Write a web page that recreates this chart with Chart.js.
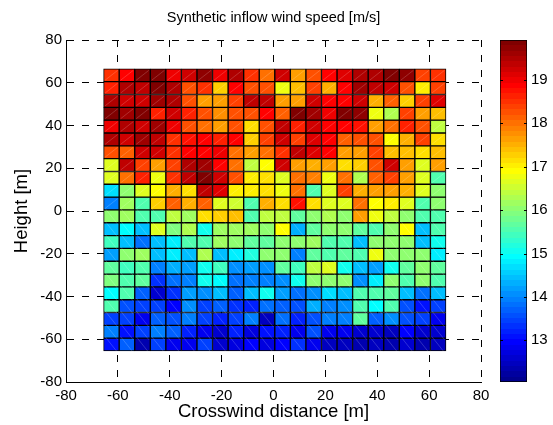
<!DOCTYPE html>
<html>
<head>
<meta charset="utf-8">
<script src="https://cdn.jsdelivr.net/npm/chart.js@4"></script>
<style>
  html, body { margin: 0; padding: 0; background: #fff; }
  #wrap { position: relative; width: 553px; height: 425px; }
  #wrap canvas { position: absolute; left: 0; top: 0; }
</style>
</head>
<body>
<div id="wrap">
  <canvas id="main" width="553" height="425"></canvas>
  <canvas id="cbar" width="553" height="425"></canvas>
</div>
<script>
/* ---- data: wind speed [m/s] per cell, rows top (y=63) to bottom (y=-63) ---- */
const crosswind = [-62.5, -56.5, -50.5, -44.5, -38.5, -32.5, -26.5, -20.5, -14.5, -8.5, -2.5,
                   3.5, 9.5, 15.5, 21.5, 27.5, 33.5, 39.5, 45.5, 51.5, 57.5, 63.5];
const heights = [63.5, 57.5, 51.5, 45.5, 39.5, 33.5, 27.5, 21.5, 15.5, 9.5, 3.5,
                 -2.5, -8.5, -14.5, -20.5, -26.5, -32.5, -38.5, -44.5, -50.5, -56.5, -62.5];
const cellHalf = 3;

const windSpeed = [
  [18.5, 18.9, 19.8, 19.8, 19.0, 19.2, 19.7, 19.0, 19.5, 18.5, 18.0, 19.3, 17.7, 18.2, 18.9, 19.1, 19.5, 19.5, 19.8, 19.7, 18.4, 18.5],
  [18.6, 19.5, 19.4, 19.8, 19.5, 18.3, 18.5, 17.3, 18.9, 18.2, 18.3, 16.8, 17.4, 18.4, 17.5, 18.9, 19.6, 19.4, 19.2, 18.2, 17.0, 18.4],
  [19.5, 19.3, 19.3, 19.6, 19.5, 18.3, 17.6, 17.6, 18.4, 19.4, 19.4, 17.6, 17.7, 19.3, 18.9, 18.9, 19.3, 17.5, 18.1, 17.3, 18.4, 19.1],
  [19.9, 19.6, 19.8, 18.6, 19.2, 18.6, 18.3, 17.8, 18.3, 18.2, 18.9, 18.1, 19.9, 19.6, 19.0, 19.9, 19.7, 16.8, 16.3, 18.4, 17.6, 17.4],
  [19.0, 19.5, 19.3, 19.6, 19.0, 18.2, 18.0, 17.7, 18.2, 17.2, 18.3, 19.4, 18.6, 19.3, 18.9, 18.9, 18.8, 17.6, 18.0, 18.6, 18.3, 16.4],
  [19.5, 19.2, 19.6, 19.4, 18.5, 18.8, 18.9, 18.6, 18.9, 17.3, 18.4, 19.3, 18.4, 19.1, 18.9, 18.1, 18.2, 18.2, 16.9, 17.5, 18.4, 17.2],
  [18.2, 18.1, 19.3, 19.3, 18.5, 18.9, 18.9, 19.0, 18.0, 17.7, 18.0, 18.5, 19.4, 19.1, 18.9, 17.6, 17.7, 18.4, 17.4, 17.4, 17.1, 17.4],
  [16.6, 19.4, 18.4, 17.6, 18.4, 19.5, 19.6, 18.9, 18.0, 16.4, 16.9, 19.3, 17.7, 17.5, 17.6, 17.2, 17.3, 18.2, 19.2, 17.6, 16.7, 17.7],
  [16.6, 18.0, 18.6, 16.8, 18.5, 19.4, 19.8, 19.2, 18.3, 17.0, 17.1, 16.7, 18.0, 17.9, 16.8, 18.0, 16.3, 18.1, 18.4, 17.6, 16.7, 15.5],
  [14.7, 16.1, 16.6, 16.9, 17.5, 17.1, 19.4, 19.1, 17.0, 17.0, 17.2, 16.8, 18.0, 15.6, 16.6, 18.4, 17.5, 17.6, 17.7, 17.5, 16.7, 16.1],
  [13.9, 16.2, 15.6, 17.3, 18.1, 17.5, 18.1, 16.7, 16.5, 15.6, 17.5, 17.1, 18.8, 17.1, 16.6, 16.7, 18.0, 16.9, 17.0, 16.6, 15.5, 16.0],
  [16.1, 16.2, 15.5, 15.5, 16.4, 16.2, 17.2, 17.3, 17.4, 15.6, 16.4, 16.4, 15.7, 16.1, 16.3, 16.1, 17.6, 16.8, 16.4, 16.1, 15.6, 15.6],
  [14.4, 14.9, 14.5, 16.6, 15.9, 16.3, 15.0, 16.2, 16.2, 16.2, 16.1, 16.9, 14.3, 15.7, 16.0, 16.1, 15.7, 15.5, 16.0, 16.9, 14.5, 15.5],
  [15.4, 14.5, 13.8, 14.4, 14.8, 15.6, 15.5, 16.2, 16.1, 15.7, 15.7, 16.0, 16.0, 16.2, 15.5, 15.6, 14.5, 16.1, 16.1, 16.1, 14.4, 15.0],
  [14.2, 16.1, 16.2, 14.4, 14.8, 14.5, 16.3, 14.5, 14.8, 15.2, 16.1, 16.0, 13.9, 15.7, 15.6, 15.7, 15.6, 16.8, 16.0, 16.1, 16.1, 14.8],
  [15.7, 15.4, 15.6, 14.0, 14.3, 14.2, 15.0, 15.4, 14.1, 14.2, 14.1, 15.7, 15.4, 16.4, 16.6, 15.0, 14.4, 14.2, 15.0, 15.7, 16.1, 15.7],
  [15.9, 15.6, 15.7, 13.3, 13.8, 14.0, 15.0, 14.9, 13.8, 14.0, 14.0, 14.1, 15.0, 16.0, 16.0, 16.0, 14.1, 14.8, 16.0, 15.5, 16.1, 15.5],
  [14.9, 15.6, 13.7, 12.6, 13.3, 14.2, 14.1, 14.4, 13.7, 14.4, 15.0, 14.2, 13.8, 14.1, 14.7, 14.4, 15.6, 15.5, 15.7, 14.4, 13.8, 14.5],
  [15.5, 13.6, 13.4, 13.4, 13.0, 14.1, 13.4, 13.7, 13.3, 13.2, 13.8, 13.7, 13.6, 14.3, 14.0, 14.1, 15.6, 14.9, 15.6, 13.6, 13.1, 13.5],
  [13.5, 13.5, 12.9, 13.7, 13.6, 13.9, 13.5, 13.2, 13.4, 13.9, 12.5, 13.8, 13.2, 13.6, 13.9, 14.0, 15.7, 13.7, 14.1, 13.6, 13.4, 12.8],
  [13.9, 13.1, 13.5, 13.9, 13.7, 13.2, 12.8, 12.6, 13.2, 12.7, 13.1, 13.2, 12.9, 13.6, 12.8, 12.9, 12.6, 12.6, 12.5, 13.0, 12.6, 12.6],
  [13.1, 13.7, 12.4, 13.4, 12.8, 12.9, 13.4, 12.6, 12.7, 13.0, 12.7, 13.0, 13.3, 12.8, 12.5, 12.5, 12.4, 12.5, 12.4, 12.6, 12.4, 12.5]
];

const axisTicks = [-80, -60, -40, -20, 0, 20, 40, 60, 80];
const colorTicks = [13, 14, 15, 16, 17, 18, 19];
const colorLimits = [12.04, 19.92];

/* ---- jet colormap (64 levels, like MATLAB) ---- */
const NCOL = 64;
function jetRGB(i) {
  const k = i + 1;
  const u = j => (j < 1 || j > 47) ? 0 : (j <= 16 ? j / 16 : (j <= 31 ? 1 : (48 - j) / 16));
  return 'rgb(' + [u(k - 24), u(k - 8), u(k + 8)].map(c => Math.round(c * 255)).join(',') + ')';
}
function colorFor(v) {
  const t = (v - colorLimits[0]) / (colorLimits[1] - colorLimits[0]);
  const i = Math.max(0, Math.min(NCOL - 1, Math.floor(t * NCOL)));
  return jetRGB(i);
}

const FONT = 'Arial, "Liberation Sans", Helvetica, sans-serif';

// faint diagonal in every cell (triangulated surface look)
const diagonais = {
  id: 'diagonais',
  afterDatasetsDraw(chart) {
    const ctx = chart.ctx;
    ctx.save();
    ctx.strokeStyle = 'rgba(255,255,255,0.3)';
    ctx.lineWidth = 0.6;
    chart.getSortedVisibleDatasetMetas().forEach(meta => {
      meta.data.forEach(bar => {
        const p = bar.getProps(['x', 'y', 'base', 'width'], true);
        ctx.beginPath();
        ctx.moveTo(p.x - p.width / 2 + 1.5, p.base - 1.5);
        ctx.lineTo(p.x + p.width / 2 - 1.5, p.y + 1.5);
        ctx.stroke();
      });
    });
    ctx.restore();
  }
};

// one floating-bar dataset per row of cells
const datasets = heights.map((h, r) => ({
  data: crosswind.map(x => ({ x: x, y: [h - cellHalf, h + cellHalf] })),
  backgroundColor: windSpeed[r].map(colorFor),
  borderColor: '#000',
  borderWidth: 1,
  borderSkipped: false,
  barPercentage: 1,
  categoryPercentage: 1,
  grouped: false
}));

const axisCommon = (titleText) => ({
  type: 'linear',
  min: -80,
  max: 80,
  offset: false,
  afterBuildTicks: scale => { scale.ticks = axisTicks.map(v => ({ value: v })); },
  grid: { color: '#000', lineWidth: 1, drawTicks: false, offset: false },
  border: { display: true, color: '#000', width: 1, dash: [7, 8] },
  ticks: { color: '#000', font: { family: FONT, size: 15 }, padding: 5 },
  title: { display: true, text: titleText, color: '#000', font: { family: FONT, size: 18.5 } }
});

const xAxis = axisCommon('Crosswind distance [m]');
xAxis.title.padding = { top: 0, bottom: 2 };
xAxis.afterFit = scale => { scale.height = 43; };

const yAxis = axisCommon('Height [m]');
yAxis.title.padding = { top: 11, bottom: 0 };
yAxis.ticks.padding = 4;
yAxis.afterFit = scale => { scale.width = 66; };

new Chart(document.getElementById('main'), {
  type: 'bar',
  data: { datasets: datasets },
  options: {
    responsive: false,
    animation: false,
    devicePixelRatio: 1,
    layout: { padding: { left: 0, right: 72, top: 0, bottom: 0 } },
    plugins: {
      legend: { display: false },
      tooltip: { enabled: false },
      title: {
        display: true,
        fullSize: false,
        text: 'Synthetic inflow wind speed [m/s]',
        color: '#000',
        font: { family: FONT, size: 14.5, weight: 'normal' },
        padding: { top: 9, bottom: 13.6 }
      }
    },
    scales: { x: xAxis, y: yAxis }
  },
  plugins: [diagonais]
});

/* ---- colorbar ---- */
const marcasColorbar = {
  id: 'marcasColorbar',
  afterDraw(chart) {
    const ctx = chart.ctx;
    const a = chart.chartArea;
    const y = chart.scales.y;
    ctx.save();
    ctx.strokeStyle = '#000';
    ctx.lineWidth = 1;
    colorTicks.forEach(v => {
      const py = Math.round(y.getPixelForValue(v)) + 0.5;
      ctx.beginPath();
      ctx.moveTo(a.left, py); ctx.lineTo(a.left + 3, py);
      ctx.moveTo(a.right - 3, py); ctx.lineTo(a.right, py);
      ctx.stroke();
    });
    ctx.restore();
  }
};

new Chart(document.getElementById('cbar'), {
  type: 'bar',
  data: {
    labels: [''],
    datasets: [{
      data: [colorLimits],
      backgroundColor: (c) => {
        const chart = c.chart;
        if (!chart.chartArea) return '#000';
        const y = chart.scales.y;
        const g = chart.ctx.createLinearGradient(0, y.getPixelForValue(colorLimits[0]), 0, y.getPixelForValue(colorLimits[1]));
        for (let i = 0; i < NCOL; i++) {
          g.addColorStop(i / NCOL, jetRGB(i));
          g.addColorStop((i + 1) / NCOL, jetRGB(i));
        }
        return g;
      },
      borderColor: '#000',
      borderWidth: 1,
      borderSkipped: false,
      barPercentage: 1,
      categoryPercentage: 1
    }]
  },
  options: {
    responsive: false,
    animation: false,
    devicePixelRatio: 1,
    layout: { padding: { left: 500, right: 0, top: 40, bottom: 43 } },
    plugins: { legend: { display: false }, tooltip: { enabled: false } },
    scales: {
      x: { display: false },
      y: {
        position: 'right',
        min: colorLimits[0],
        max: colorLimits[1],
        afterBuildTicks: scale => { scale.ticks = colorTicks.map(v => ({ value: v })); },
        grid: { display: false, drawTicks: false },
        border: { display: false },
        ticks: { color: '#000', font: { family: FONT, size: 15 }, padding: 4 },
        afterFit: scale => { scale.width = 26; }
      }
    }
  },
  plugins: [marcasColorbar]
});
</script>
</body>
</html>
